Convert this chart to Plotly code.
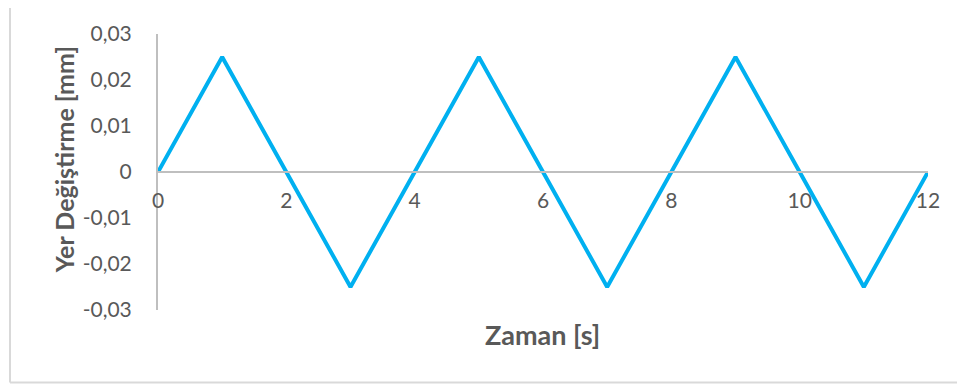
import plotly.graph_objects as go

time_s = [0, 1, 2, 3, 4, 5, 6, 7, 8, 9, 10, 11, 12]
displacement_mm = [0, 0.025, 0, -0.025, 0, 0.025, 0, -0.025, 0, 0.025, 0, -0.025, 0]

x_tickvals = [0, 2, 4, 6, 8, 10, 12]
x_ticktext = ["0", "2", "4", "6", "8", "10", "12"]
y_tickvals = [0.03, 0.02, 0.01, 0, -0.01, -0.02, -0.03]
y_ticktext = ["0,03", "0,02", "0,01", "0", "-0,01", "-0,02", "-0,03"]

FONT = "Lato"
GRAY_TXT = "#595959"
AXIS_COL = "#bfbfbf"

# page has an 8px body margin; work in page pixels and shift
OFF = 8
W, H = 965 - OFF, 390 - OFF
# plot area in page px: x 158..928, y 28..310
L, R, T, B = 158 - OFF, 965 - 928, 28 - OFF, 390 - 310
pw, ph = W - L - R, H - T - B

def px_x(px):
    return (px - OFF - L) / pw

def px_y(py):
    return (H - B - (py - OFF)) / ph

fig = go.Figure()
fig.add_trace(go.Scatter(
    x=time_s, y=displacement_mm, mode="lines",
    line=dict(color="#00b0f0", width=4),
    showlegend=False,
))

fig.update_layout(
    width=W, height=H,
    margin=dict(l=L, r=R, t=T, b=B),
    paper_bgcolor="white", plot_bgcolor="white",
    font=dict(family=FONT, color=GRAY_TXT, size=21),
    xaxis=dict(
        range=[0, 12], tickvals=x_tickvals, ticktext=x_ticktext,
        anchor="free", position=0.5,
        showline=True, linecolor=AXIS_COL, linewidth=2,
        showgrid=False, zeroline=False, ticks="",
        ticklabelstandoff=10,
        tickfont=dict(size=21),
    ),
    yaxis=dict(
        range=[-0.03, 0.03], tickvals=y_tickvals, ticktext=y_ticktext,
        showline=True, linecolor=AXIS_COL, linewidth=2,
        showgrid=False, zeroline=False, ticks="",
        ticklabelstandoff=20,
        tickfont=dict(size=21),
    ),
    shapes=[
        dict(type="line", xref="paper", yref="paper",
             x0=px_x(10), x1=px_x(10), y0=px_y(0), y1=px_y(384),
             line=dict(color="#d9d9d9", width=2)),
        dict(type="line", xref="paper", yref="paper",
             x0=px_x(10), x1=px_x(965), y0=px_y(384), y1=px_y(384),
             line=dict(color="#d9d9d9", width=2)),
    ],
    annotations=[
        dict(text="<b>Zaman [s]</b>", xref="paper", yref="paper",
             x=px_x(542), y=px_y(335), showarrow=False,
             font=dict(size=27, color=GRAY_TXT, family=FONT),
             xanchor="center", yanchor="middle"),
        dict(text="<b>Yer Değiştirme [mm]</b>", xref="paper", yref="paper",
             x=px_x(64), y=px_y(157), showarrow=False, textangle=-90,
             font=dict(size=25, color=GRAY_TXT, family=FONT),
             xanchor="center", yanchor="middle"),
    ],
)

fig.write_html("out.html")
